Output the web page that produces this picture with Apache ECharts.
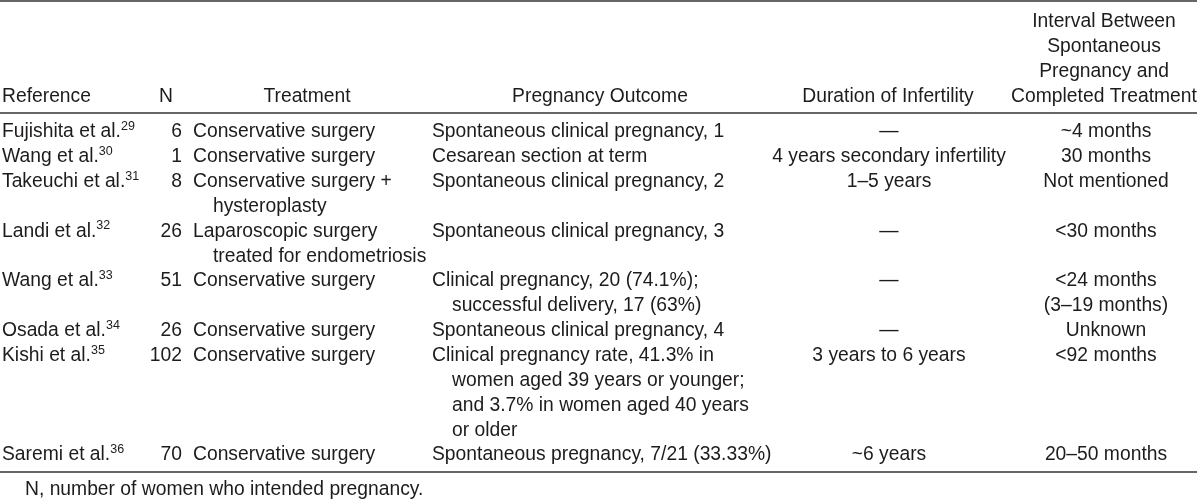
<!DOCTYPE html>
<html>
<head>
<meta charset="utf-8">
<script src="https://cdn.jsdelivr.net/npm/echarts@6/dist/echarts.min.js"></script>
<style>
html,body{margin:0;padding:0;background:#fff;}
#chart{width:1200px;height:503px;}
</style>
</head>
<body>
<div id="chart"></div>
<script>
// ---------- DATA ----------
var headers = [["Reference"], ["N"], ["Treatment"], ["Pregnancy Outcome"], ["Duration of Infertility"],
  ["Interval Between", "Spontaneous", "Pregnancy and", "Completed Treatment"]];
var references = ["Fujishita et al.", "Wang et al.", "Takeuchi et al.", "Landi et al.", "Wang et al.", "Osada et al.", "Kishi et al.", "Saremi et al."];
var refNumbers = ["29", "30", "31", "32", "33", "34", "35", "36"];
var nValues = [6, 1, 8, 26, 51, 26, 102, 70];
var treatments = [
  ["Conservative surgery"],
  ["Conservative surgery"],
  ["Conservative surgery +", "hysteroplasty"],
  ["Laparoscopic surgery", "treated for endometriosis"],
  ["Conservative surgery"],
  ["Conservative surgery"],
  ["Conservative surgery"],
  ["Conservative surgery"]
];
var outcomes = [
  ["Spontaneous clinical pregnancy, 1"],
  ["Cesarean section at term"],
  ["Spontaneous clinical pregnancy, 2"],
  ["Spontaneous clinical pregnancy, 3"],
  ["Clinical pregnancy, 20 (74.1%);", "successful delivery, 17 (63%)"],
  ["Spontaneous clinical pregnancy, 4"],
  ["Clinical pregnancy rate, 41.3% in", "women aged 39 years or younger;", "and 3.7% in women aged 40 years", "or older"],
  ["Spontaneous pregnancy, 7/21 (33.33%)"]
];
var durations = [["—"], ["4 years secondary infertility"], ["1–5 years"], ["—"], ["—"], ["—"], ["3 years to 6 years"], ["~6 years"]];
var intervals = [["~4 months"], ["30 months"], ["Not mentioned"], ["<30 months"], ["<24 months", "(3–19 months)"], ["Unknown"], ["<92 months"], ["20–50 months"]];
var footnote = "N, number of women who intended pregnancy.";

// ---------- LAYOUT ----------
var FONT = "'Liberation Sans', Arial, Helvetica, sans-serif";
var FS = 19.3;
var TXT = '#1e1b1c';
var RULE = '#333333';
var LINE_H = 24.85;
var HEAD_TOP = 22;      // y of first header line
var BODY_TOP = 132;     // y of first body line
var RULES_Y = [1, 113, 472];
var FOOT_Y = 490;
// column anchors
var COLS = [
  {x: 2, align: 'left', hx: 2, halign: 'left', indent: 0},
  {x: 182, align: 'right', hx: 166, halign: 'center', indent: 0},
  {x: 193, align: 'left', hx: 307, halign: 'center', indent: 20},
  {x: 432, align: 'left', hx: 600, halign: 'center', indent: 20},
  {x: 889, align: 'center', hx: 888, halign: 'center', indent: 0},
  {x: 1106, align: 'center', hx: 1104, halign: 'center', indent: 0}
];

// line offsets for each row
var rowStart = [];
(function () {
  var acc = 0;
  for (var i = 0; i < references.length; i++) {
    rowStart.push(acc);
    acc += Math.max(1, treatments[i].length, outcomes[i].length, durations[i].length, intervals[i].length);
  }
})();

function textEl(api, x, y, str, align, rich) {
  var p = api.coord([x, y]);
  var st = {
    text: str, x: p[0], y: p[1], align: align, verticalAlign: 'middle',
    fill: TXT, font: FS + 'px ' + FONT, fontSize: FS, fontFamily: FONT
  };
  if (rich) st.rich = rich;
  return {type: 'text', silent: true, style: st};
}

var supRich = {
  m: {fontSize: FS, fontFamily: FONT, fill: TXT, lineHeight: 24},
  sup: {fontSize: 12.5, fontFamily: FONT, fill: TXT, verticalAlign: 'top', lineHeight: 12}
};

function renderRow(params, api) {
  var i = api.value(0);
  var y0 = BODY_TOP + rowStart[i] * LINE_H;
  var children = [];
  children.push(textEl(api, COLS[0].x, y0, '{m|' + references[i] + '}{sup|' + refNumbers[i] + '}', 'left', supRich));
  children.push(textEl(api, COLS[1].x, y0, String(nValues[i]), 'right'));
  var cols = [treatments[i], outcomes[i], durations[i], intervals[i]];
  for (var c = 0; c < cols.length; c++) {
    var col = COLS[c + 2];
    for (var k = 0; k < cols[c].length; k++) {
      var x = col.x + (k > 0 ? col.indent : 0);
      children.push(textEl(api, x, y0 + k * LINE_H, cols[c][k], col.align));
    }
  }
  return {type: 'group', children: children};
}

function renderHeader(params, api) {
  var children = [];
  var maxLines = 0;
  headers.forEach(function (h) { maxLines = Math.max(maxLines, h.length); });
  headers.forEach(function (h, c) {
    var off = maxLines - h.length;
    h.forEach(function (s, k) {
      children.push(textEl(api, COLS[c].hx, HEAD_TOP + (off + k) * LINE_H, s, COLS[c].halign));
    });
  });
  RULES_Y.forEach(function (ry) {
    var a = api.coord([0, ry]), b = api.coord([1197, ry]);
    children.push({type: 'line', silent: true, shape: {x1: a[0], y1: a[1], x2: b[0], y2: b[1]},
      style: {stroke: RULE, lineWidth: 1.4}});
  });
  children.push(textEl(api, 25, FOOT_Y, footnote, 'left'));
  return {type: 'group', children: children};
}

var chart = echarts.init(document.getElementById('chart'), null, {renderer: 'canvas'});
chart.setOption({
  animation: false,
  backgroundColor: '#ffffff',
  grid: {left: 0, right: 0, top: 0, bottom: 0},
  xAxis: {type: 'value', min: 0, max: 1200, show: false},
  yAxis: {type: 'value', min: 0, max: 503, inverse: true, show: false},
  series: [
    {type: 'custom', renderItem: renderHeader, data: [[0]], silent: true},
    {type: 'custom', renderItem: renderRow, data: references.map(function (r, i) { return [i]; }), silent: true}
  ]
});
</script>
</body>
</html>
